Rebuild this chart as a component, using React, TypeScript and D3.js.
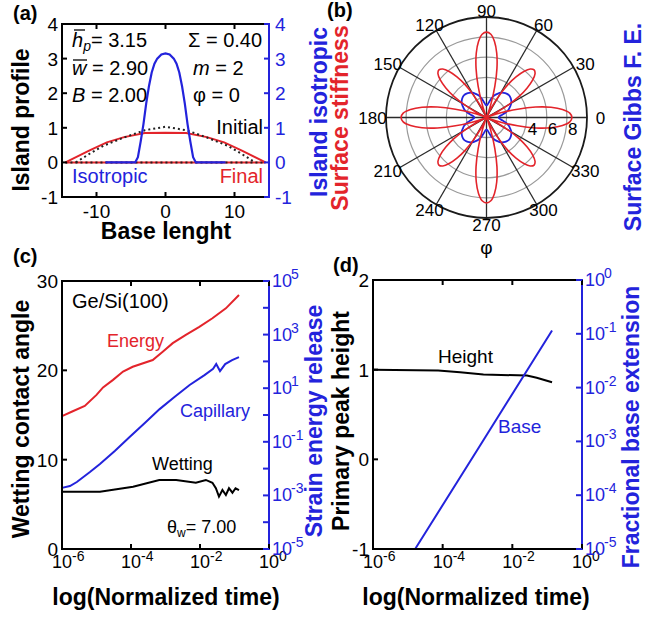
import React, { useEffect, useRef } from "react";
import * as d3 from "d3";

const red = "#e3242b";
const blue = "#2323dc";
const font = "'Liberation Sans', Arial, sans-serif";

// (a) island profiles vs base length
const isotropicX = [-8.7, -4.4, -4.0, -3.6, -3.2, -2.8, -2.4, -2.0, -1.6, -1.2, -0.6, 0, 0.6, 1.2, 1.6, 2.0, 2.4, 2.8, 3.2, 3.6, 4.0, 4.4, 8.7];
const isotropicY = [0, 0, 0.15, 0.6, 1.1, 1.7, 2.2, 2.6, 2.85, 3.0, 3.12, 3.15, 3.12, 3.0, 2.85, 2.6, 2.2, 1.7, 1.1, 0.6, 0.15, 0, 0];
const finalX = [-14.5, -11, -8.5, -6, -3, 0, 3, 6, 8.5, 11, 14.5];
const finalY = [0, 0.35, 0.58, 0.73, 0.85, 0.86, 0.85, 0.73, 0.58, 0.35, 0];
const initialX = [-13, -11, -9, -6, -3, 0, 3, 6, 9, 11, 13];
const initialY = [0, 0.25, 0.48, 0.72, 0.93, 1.03, 0.93, 0.72, 0.48, 0.25, 0];
const profileTicksX = [-10, 0, 10];
const profileTicksY = [-1, 0, 1, 2, 3, 4];

// (b) polar plot, one lobe (offset from lobe axis in degrees)
const lobeOffset = [0, 3, 6, 9, 12, 15, 18, 20, 22.5];
const stiffnessAxial = [8.5, 8.3, 7.6, 6.5, 5.0, 3.2, 1.5, 0.5, 0];
const stiffnessDiagonal = [6.7, 6.5, 5.9, 5.0, 3.9, 2.5, 1.2, 0.4, 0];
const gibbsAngle = [0, 5, 10, 15, 20, 25, 30, 35, 40, 45];
const gibbsR = [1.2, 1.3, 1.6, 2.0, 2.35, 2.6, 2.85, 3.0, 3.1, 3.15];
const ringValues = [2, 4, 6, 8];
const ringLabels = [4, 6, 8];
const spokeAngles = [0, 30, 60, 90, 120, 150, 180, 210, 240, 270, 300, 330];

// (c) log10 of normalized time and values
const energyLogT = [-6.0, -5.72, -5.34, -5.0, -4.81, -4.52, -4.23, -3.95, -3.37, -3.08, -2.79, -2.41, -2.02, -1.64, -1.25, -0.87];
const energyLog = [-0.04, 0.12, 0.34, 0.75, 1.03, 1.31, 1.62, 1.8, 2.05, 2.36, 2.68, 2.99, 3.29, 3.61, 3.98, 4.48];
const capillaryLogT = [-6.0, -5.77, -5.57, -5.19, -4.9, -4.47, -4.04, -3.6, -3.17, -2.74, -2.3, -1.87, -1.62, -1.53, -1.42, -1.27, -1.07, -0.87];
const capillaryLog = [-2.72, -2.65, -2.5, -2.13, -1.83, -1.34, -0.82, -0.3, 0.22, 0.67, 1.12, 1.49, 1.72, 1.9, 1.64, 1.9, 2.05, 2.16];
const wettingLogT = [-6.0, -4.9, -3.94, -3.18, -2.69, -2.12, -1.83, -1.64, -1.54, -1.45, -1.35, -1.25, -1.16, -1.06, -0.97, -0.87];
const wettingAngle = [6.42, 6.42, 6.98, 7.73, 7.73, 7.42, 7.73, 7.42, 6.8, 5.86, 6.6, 6.05, 6.8, 6.3, 6.8, 6.6];
const timeTicks = [-6, -4, -2, 0];
const angleTicks = [0, 10, 20, 30];
const energyTicks = [-5, -4, -3, -2, -1, 0, 1, 2, 3, 4, 5];
const energyLabels = [-5, -3, -1, 1, 3, 5];

// (d)
const heightLogT = [-6.0, -4.13, -3.5, -2.83, -1.58, -1.3, -0.86];
const heightVal = [1.0, 0.99, 0.97, 0.945, 0.935, 0.91, 0.86];
const baseLogT = [-4.79, -2.93, -0.86];
const baseLog = [-5.0, -3.08, -0.94];
const heightTicks = [-1, 0, 1, 2];
const baseTicks = [-5, -4, -3, -2, -1, 0];

function App() {
  const svgRef = useRef<SVGSVGElement>(null);
  const width = 646;
  const height = 619;

  useEffect(() => {
    const svg = d3.select(svgRef.current);
    svg.selectAll("*").remove();
    svg.style("font-family", font);

    const text = (x, y, str, size, opts: any = {}) =>
      svg
        .append("text")
        .attr("transform", `translate(${x},${y}) rotate(${opts.rotate || 0})`)
        .attr("text-anchor", opts.anchor || "start")
        .attr("fill", opts.color || "black")
        .style("font-size", size + "px")
        .style("font-weight", opts.weight || "normal")
        .style("font-style", opts.italic ? "italic" : "normal")
        .text(str);

    const seg = (x1, y1, x2, y2, color = "black", w = 2) =>
      svg
        .append("line")
        .attr("x1", x1)
        .attr("y1", y1)
        .attr("x2", x2)
        .attr("y2", y2)
        .attr("stroke", color)
        .attr("stroke-width", w);

    const path = (xs, ys, sx, sy, color, w = 2, dash = null) =>
      svg
        .append("path")
        .attr(
          "d",
          d3
            .line<number>()
            .x((d, i) => sx(xs[i]))
            .y((d, i) => sy(ys[i]))(ys)
        )
        .attr("fill", "none")
        .attr("stroke", color)
        .attr("stroke-width", w)
        .attr("stroke-dasharray", dash);

    // "10" with a raised exponent
    const pow = (x, y, e, color, centered) => {
      text(x, y, "10", 18, { anchor: centered ? "middle" : "start", color });
      text(centered ? x + 10 : x + 19, y - (centered ? 7 : 8), String(e), 14, { color });
    };

    const frame = (x0, x1, y0, y1, rightColor) => {
      seg(x0, y0, x1, y0);
      seg(x0, y1, x1, y1);
      seg(x0, y0 - 1, x0, y1 + 1);
      seg(x1, y0 - 1, x1, y1 + 1, rightColor);
    };

    const tk = 5;

    // ---------- (a) ----------
    const xA = d3.scaleLinear().domain([-15, 15]).range([62, 269]);
    const yA = d3.scaleLinear().domain([-1, 4]).range([197, 24]);
    const [fx0, fx1] = d3.extent(finalX);
    path([fx0, fx1], [0, 0], xA, yA, red);
    path([fx0, fx1], [0, 0], xA, yA, "#222", 2, "2,3");
    path(finalX, finalY, xA, yA, red);
    path(initialX, initialY, xA, yA, "#222", 2, "2,3");
    path(isotropicX, isotropicY, xA, yA, blue, 2.2);
    frame(62, 269, 24, 197, blue);
    profileTicksX.forEach((v) => {
      seg(xA(v), 197, xA(v), 197 - tk);
      seg(xA(v), 24, xA(v), 24 + tk);
      text(xA(v), 218, String(v), 19, { anchor: "middle" });
    });
    profileTicksY.forEach((v) => {
      seg(62, yA(v), 62 + tk, yA(v));
      seg(269, yA(v), 269 - tk, yA(v), blue);
      text(58, yA(v) + 7, String(v), 19, { anchor: "end" });
      text(275, yA(v) + 7, String(v), 19, { color: blue });
    });
    const hp = text(72, 47, "", 20);
    hp.append("tspan").style("font-style", "italic").text("h");
    hp.append("tspan").style("font-style", "italic").style("font-size", "14px").attr("dy", 4).text("p");
    hp.append("tspan").attr("dy", -4).text("= 3.15");
    seg(74, 30, 85, 30, "black", 1.3);
    const wb = text(72, 75, "", 20);
    wb.append("tspan").style("font-style", "italic").text("w");
    wb.append("tspan").text(" = 2.90");
    seg(73, 60, 87, 60, "black", 1.3);
    const bb = text(72, 102, "", 20);
    bb.append("tspan").style("font-style", "italic").text("B");
    bb.append("tspan").text(" = 2.00");
    text(188, 47, "Σ = 0.40", 20);
    const mm = text(193, 75, "", 20);
    mm.append("tspan").style("font-style", "italic").text("m");
    mm.append("tspan").text(" = 2");
    text(193, 102, "φ = 0", 20);
    text(263, 134, "Initial", 20, { anchor: "end" });
    text(72, 183, "Isotropic", 20, { color: blue });
    text(263, 183, "Final", 20, { anchor: "end", color: red });
    text(29, 120, "Island profile", 23, { rotate: -90, anchor: "middle", weight: "bold" });
    text(166, 239, "Base lenght", 23, { anchor: "middle", weight: "bold" });
    text(327, 112, "Island isotropic", 23, { rotate: -90, anchor: "middle", weight: "bold", color: blue });
    text(348, 118, "Surface stiffness", 23, { rotate: -90, anchor: "middle", weight: "bold", color: red });
    text(13, 20, "(a)", 20, { weight: "bold" });

    // ---------- (b) ----------
    const cx = 486.5;
    const cy = 117.5;
    const rS = d3.scaleLinear().domain([0, 10]).range([0, 100.5]);
    const pol = svg.append("g").attr("transform", `translate(${cx},${cy})`);
    ringValues.forEach((v) =>
      pol.append("circle").attr("r", rS(v)).attr("fill", "none").attr("stroke", "#9a9a9a").attr("stroke-width", 1.2)
    );
    spokeAngles.forEach((a) => {
      const t = (a * Math.PI) / 180;
      pol
        .append("line")
        .attr("x1", 0)
        .attr("y1", 0)
        .attr("x2", rS(10) * Math.cos(t))
        .attr("y2", -rS(10) * Math.sin(t))
        .attr("stroke", "#2a2a2a")
        .attr("stroke-width", 1.3);
    });
    pol.append("circle").attr("r", rS(10)).attr("fill", "none").attr("stroke", "#1a1a1a").attr("stroke-width", 1.8);

    const radial = d3
      .lineRadial<number[]>()
      .angle((d) => Math.PI / 2 - (d[0] * Math.PI) / 180)
      .radius((d) => rS(d[1]))
      .curve(d3.curveCatmullRomClosed.alpha(0.5));

    const stiff: number[][] = [];
    for (let k = 0; k < 8; k++) {
      const prof = k % 2 === 0 ? stiffnessAxial : stiffnessDiagonal;
      for (let i = lobeOffset.length - 1; i > 0; i--) stiff.push([45 * k - lobeOffset[i], prof[i]]);
      for (let i = 0; i < lobeOffset.length - 1; i++) stiff.push([45 * k + lobeOffset[i], prof[i]]);
    }
    const gibbs: number[][] = [];
    for (let q = 0; q < 4; q++) {
      gibbsAngle.forEach((a, i) => gibbs.push([90 * q + a, gibbsR[i]]));
      for (let i = gibbsAngle.length - 2; i > 0; i--) gibbs.push([90 * q + 90 - gibbsAngle[i], gibbsR[i]]);
    }
    pol.append("path").attr("d", radial(gibbs)).attr("fill", "none").attr("stroke", blue).attr("stroke-width", 1.8);
    pol.append("path").attr("d", radial(stiff)).attr("fill", "none").attr("stroke", red).attr("stroke-width", 1.6);

    spokeAngles.forEach((a) => {
      const t = (a * Math.PI) / 180;
      text(cx + 114 * Math.cos(t), cy - 107 * Math.sin(t) + 6, String(a), 17, { anchor: "middle" });
    });
    ringLabels.forEach((v) => text(cx + rS(v) + 1, cy + 17, String(v), 17));
    text(cx, 254, "φ", 19, { anchor: "middle" });
    text(641, 127, "Surface Gibbs F. E.", 23, { rotate: -90, anchor: "middle", weight: "bold", color: blue });
    text(327, 17, "(b)", 20, { weight: "bold" });

    // ---------- (c) ----------
    const xC = d3.scaleLog().domain([1e-6, 1]).range([62, 269]);
    const yC = d3.scaleLinear().domain([0, 30]).range([549, 281]);
    const yCr = d3.scaleLog().domain([1e-5, 1e5]).range([549, 281]);
    const p10 = (a) => a.map((v) => Math.pow(10, v));
    path(p10(energyLogT), p10(energyLog), xC, yCr, red);
    path(p10(capillaryLogT), p10(capillaryLog), xC, yCr, blue);
    path(p10(wettingLogT), wettingAngle, xC, yC, "black");
    frame(62, 269, 281, 549, blue);
    timeTicks.forEach((e) => {
      const x = xC(Math.pow(10, e));
      seg(x, 549, x, 549 - tk);
      seg(x, 281, x, 281 + tk);
      pow(x, 568, e, "black", true);
    });
    angleTicks.forEach((v) => {
      seg(62, yC(v), 62 + tk, yC(v));
      text(58, yC(v) + 7, String(v), 19, { anchor: "end" });
    });
    energyTicks.forEach((e) => seg(269, yCr(Math.pow(10, e)), 269 - tk - 1, yCr(Math.pow(10, e)), blue));
    energyLabels.forEach((e) => pow(272, yCr(Math.pow(10, e)) + 6, e, blue, false));
    text(72, 308, "Ge/Si(100)", 20);
    text(107, 347, "Energy", 18, { color: red });
    text(180, 417, "Capillary", 18, { color: blue });
    text(152, 470, "Wetting", 18);
    const th = text(167, 533, "", 18);
    th.append("tspan").text("θ");
    th.append("tspan").style("font-size", "12px").attr("dy", 4).text("w");
    th.append("tspan").attr("dy", -4).text("= 7.00");
    text(29, 419, "Wetting contact angle", 23, { rotate: -90, anchor: "middle", weight: "bold" });
    text(166, 605, "log(Normalized time)", 23, { anchor: "middle", weight: "bold" });
    text(322, 421, "Strain energy release", 23, { rotate: -90, anchor: "middle", weight: "bold", color: blue });
    text(13, 263, "(c)", 20, { weight: "bold" });

    // ---------- (d) ----------
    const xD = d3.scaleLog().domain([1e-6, 1]).range([373, 582]);
    const yD = d3.scaleLinear().domain([-1, 2]).range([549, 280]);
    const yDr = d3.scaleLog().domain([1e-5, 1]).range([549, 280]);
    path(p10(heightLogT), heightVal, xD, yD, "black");
    path(p10(baseLogT), p10(baseLog), xD, yDr, blue);
    frame(373, 582, 280, 549, blue);
    timeTicks.forEach((e) => {
      const x = xD(Math.pow(10, e));
      seg(x, 549, x, 549 - tk);
      seg(x, 280, x, 280 + tk);
      pow(x, 568, e, "black", true);
    });
    heightTicks.forEach((v) => {
      seg(373, yD(v), 373 + tk, yD(v));
      text(369, yD(v) + 7, String(v), 19, { anchor: "end" });
    });
    baseTicks.forEach((e) => {
      seg(582, yDr(Math.pow(10, e)), 582 - tk - 1, yDr(Math.pow(10, e)), blue);
      pow(585, yDr(Math.pow(10, e)) + 6, e, blue, false);
    });
    text(438, 363, "Height", 19);
    text(498, 433, "Base", 19, { color: blue });
    text(476, 605, "log(Normalized time)", 23, { anchor: "middle", weight: "bold" });
    text(349, 421, "Primary peak height", 23, { rotate: -90, anchor: "middle", weight: "bold" });
    text(639, 427, "Fractional base extension", 23, { rotate: -90, anchor: "middle", weight: "bold", color: blue });
    text(333, 272, "(d)", 20, { weight: "bold" });
  }, []);

  return (
    <svg
      ref={svgRef}
      width={width}
      height={height}
      style={{ position: "absolute", left: 0, top: 0, background: "white" }}
    ></svg>
  );
}

export default App;
